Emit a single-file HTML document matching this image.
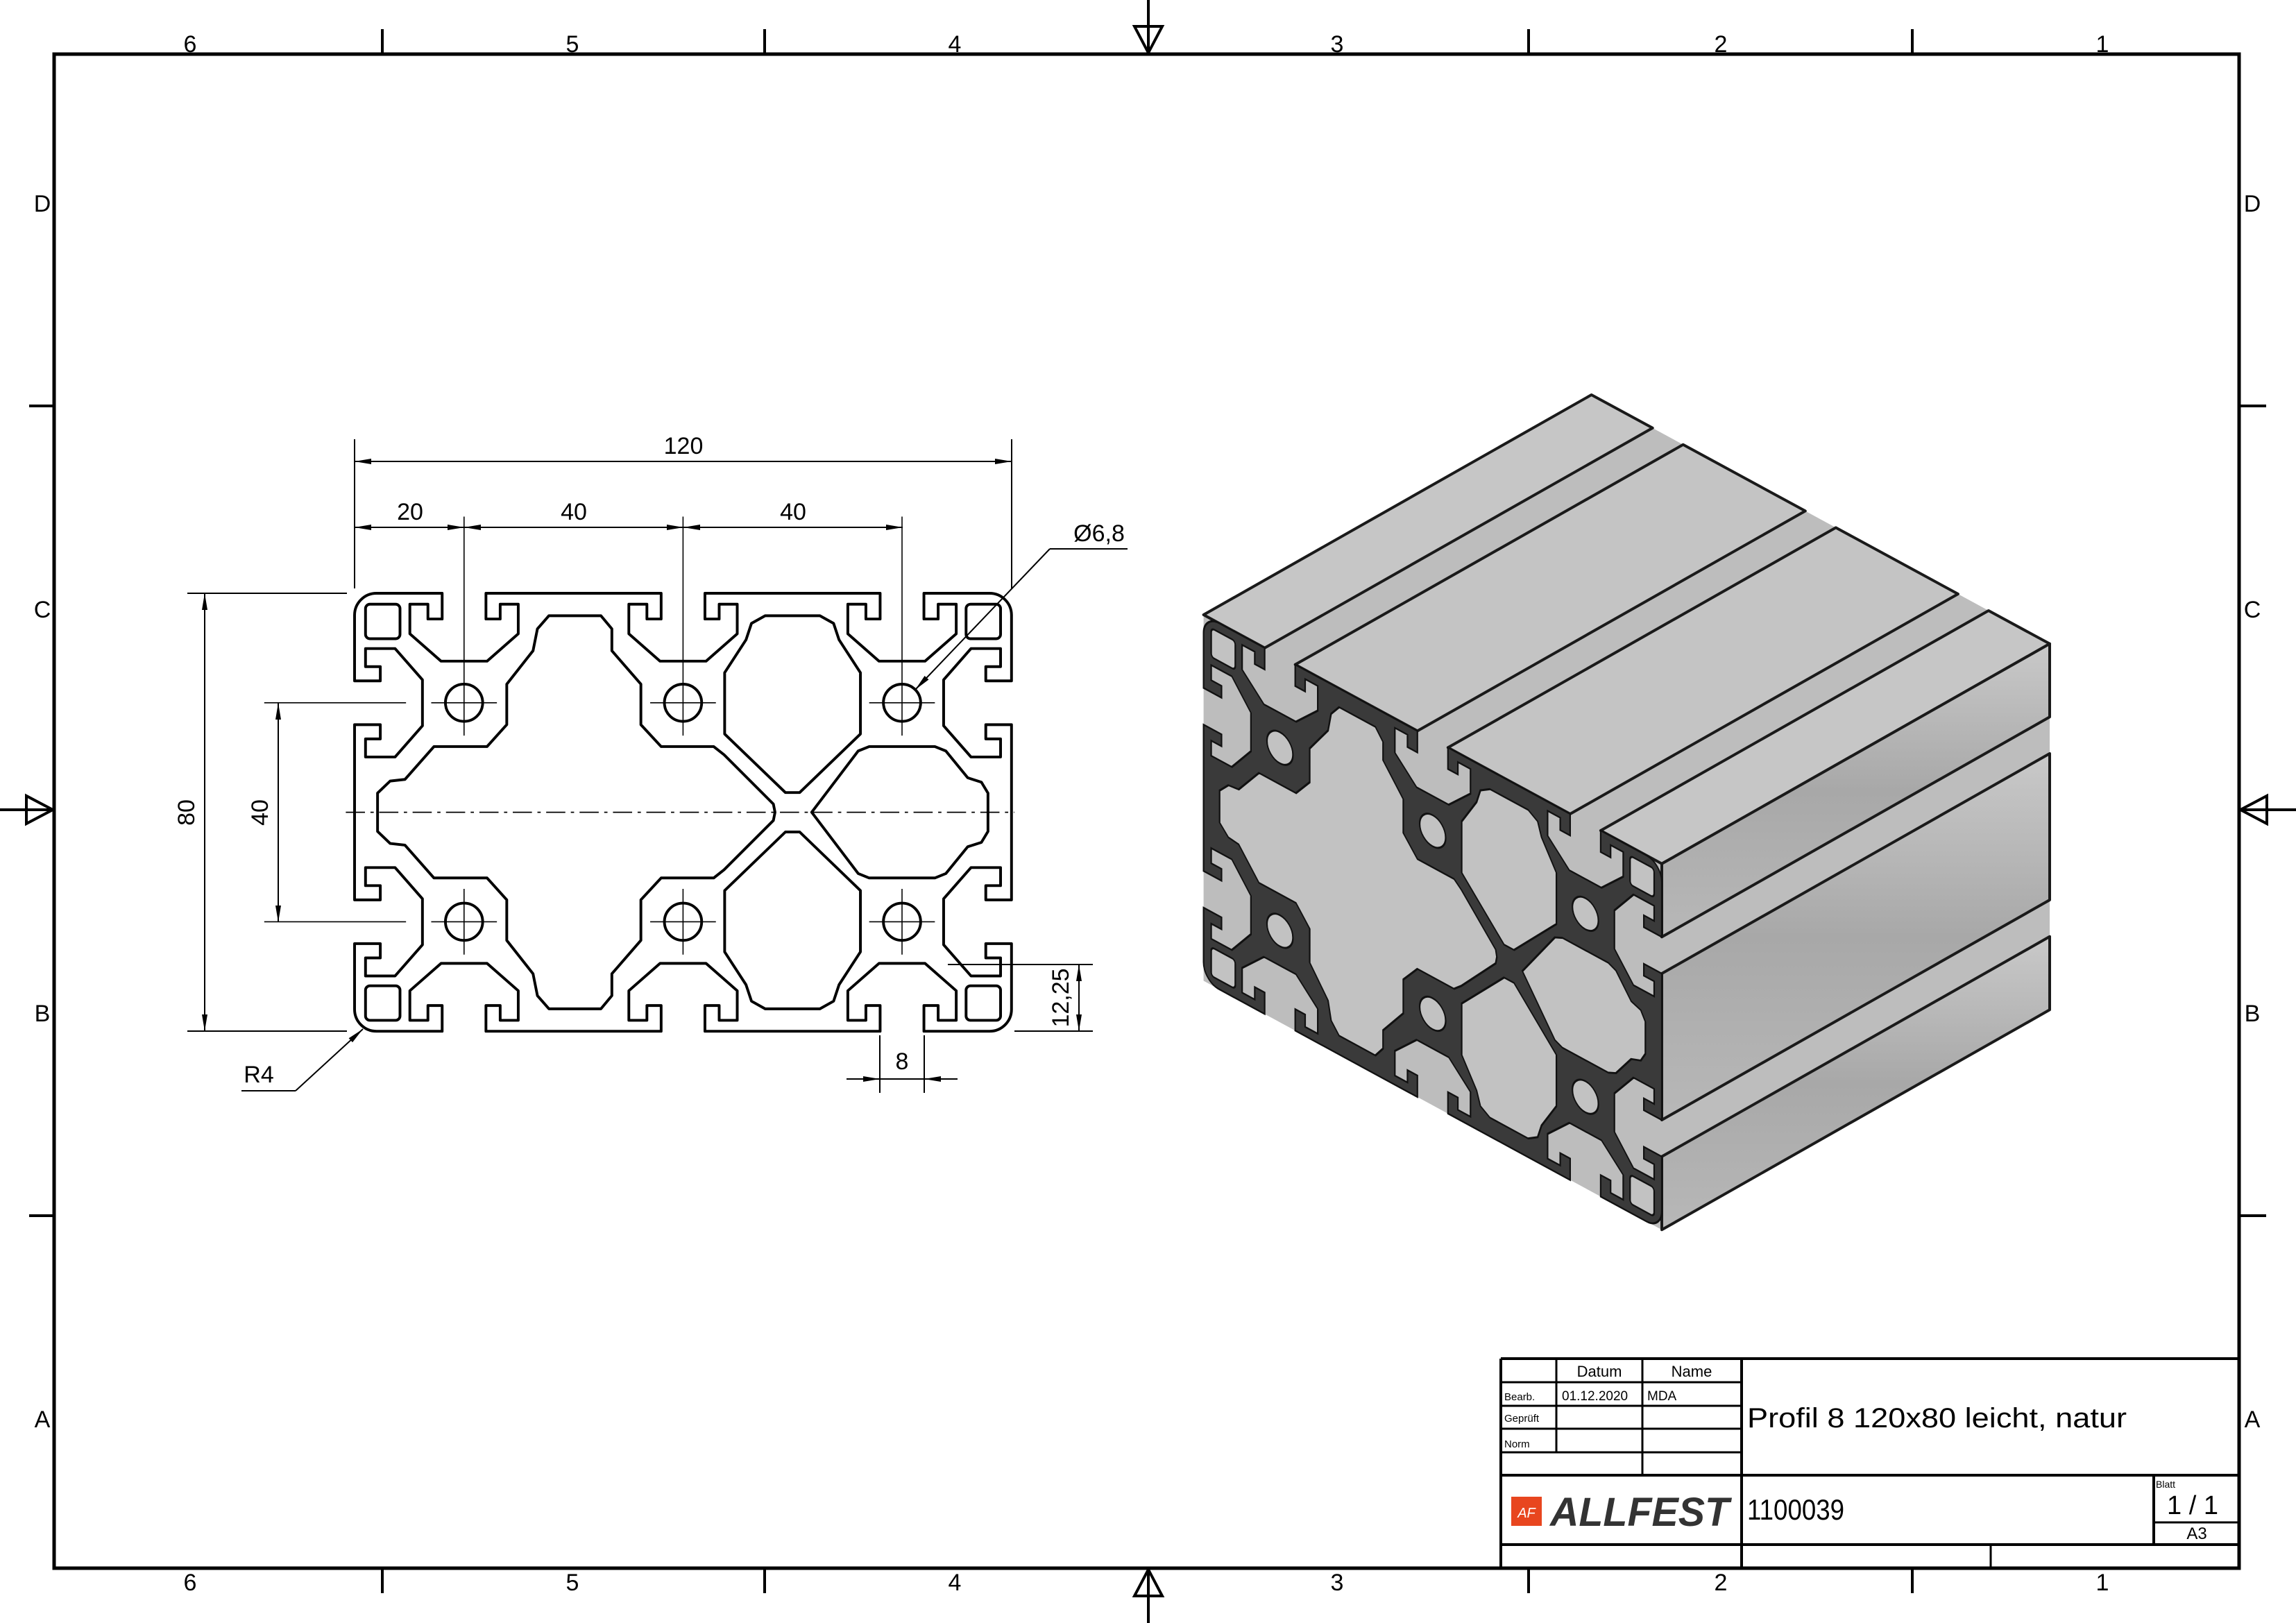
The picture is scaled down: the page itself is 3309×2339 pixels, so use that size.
<!DOCTYPE html>
<html><head><meta charset="utf-8"><style>
html,body{margin:0;padding:0;background:#fff}
svg{display:block}
text{font-family:"Liberation Sans",sans-serif;fill:#000}
</style></head><body>
<svg width="3309" height="2339" viewBox="0 0 3309 2339" xmlns="http://www.w3.org/2000/svg">
<defs>
<marker id="ar" viewBox="0 0 24 8" refX="24" refY="4" markerWidth="24" markerHeight="8" markerUnits="userSpaceOnUse" orient="auto-start-reverse"><path d="M0,0 L24,4 L0,8 Z" fill="#000"/></marker>
<path id="outer" d="M4,0 H16 v4.7 h-2.6 v-2.7 h-3.3 v5.4 l5.7,5 h8.4 l5.7,-5 v-5.4 h-3.3 v2.7 h-2.6 v-4.7 H56 v4.7 h-2.6 v-2.7 h-3.3 v5.4 l5.7,5 h8.4 l5.7,-5 v-5.4 h-3.3 v2.7 h-2.6 v-4.7 H96 v4.7 h-2.6 v-2.7 h-3.3 v5.4 l5.7,5 h8.4 l5.7,-5 v-5.4 h-3.3 v2.7 h-2.6 v-4.7 H116 A4,4 0 0 1 120,4 V16 h-4.7 v-2.6 h2.7 v-3.3 h-5.4 l-5,5.7 v8.4 l5,5.7 h5.4 v-3.3 h-2.7 v-2.6 h4.7 V56 h-4.7 v-2.6 h2.7 v-3.3 h-5.4 l-5,5.7 v8.4 l5,5.7 h5.4 v-3.3 h-2.7 v-2.6 h4.7 V76 A4,4 0 0 1 116,80 H104 v-4.7 h2.6 v2.7 h3.3 v-5.4 l-5.7,-5 h-8.4 l-5.7,5 v5.4 h3.3 v-2.7 h2.6 v4.7 H64 v-4.7 h2.6 v2.7 h3.3 v-5.4 l-5.7,-5 h-8.4 l-5.7,5 v5.4 h3.3 v-2.7 h2.6 v4.7 H24 v-4.7 h2.6 v2.7 h3.3 v-5.4 l-5.7,-5 h-8.4 l-5.7,5 v5.4 h3.3 v-2.7 h2.6 v4.7 H4 A4,4 0 0 1 0,76 V64 h4.7 v2.6 h-2.7 v3.3 h5.4 l5,-5.7 v-8.4 l-5,-5.7 h-5.4 v3.3 h2.7 v2.6 h-4.7 V24 h4.7 v2.6 h-2.7 v3.3 h5.4 l5,-5.7 v-8.4 l-5,-5.7 h-5.4 v3.3 h2.7 v2.6 h-4.7 V4 A4,4 0 0 1 4,0 Z"/>
<path id="cav" d="M4.2,40 L4.2,36.5 L6.5,34.3 L9.2,34 L14.5,28 L24.2,28 L27.8,24 L27.8,16.6 L32.6,10.5 L33.4,6.5 L35.5,4.1 L45,4.1 L47,6.5 L47,10.5 L52.3,16.6 L52.3,24 L56,28 L65.6,28 L67.5,29.5 L76.5,38.5 L76.8,40 L76.5,41.5 L67.5,50.5 L65.6,52 L56,52 L52.3,56 L52.3,63.4 L47,69.5 L47,73.5 L45,75.9 L35.5,75.9 L33.4,73.5 L32.6,69.5 L27.8,63.4 L27.8,56 L24.2,52 L14.5,52 L9.2,46 L6.5,45.7 L4.2,43.5 Z
M75,4.1 L85,4.1 L87.5,5.5 L88.5,8.5 L92.4,14.5 L92.4,25.7 L81.3,36.4 L78.7,36.4 L67.6,25.7 L67.6,14.5 L71.5,8.5 L72.5,5.5 Z
M75,75.9 L85,75.9 L87.5,74.5 L88.5,71.5 L92.4,65.5 L92.4,54.3 L81.3,43.6 L78.7,43.6 L67.6,54.3 L67.6,65.5 L71.5,71.5 L72.5,74.5 Z
M83.5,40 L92,28.8 L94,28 L106,28 L108,28.8 L112,33.7 L114.5,34.5 L115.7,36.5 L115.7,43.5 L114.5,45.5 L112,46.3 L108,51.2 L106,52 L94,52 L92,51.2 Z
M2.8,2 h4.7 a0.8,0.8 0 0 1 0.8,0.8 v4.7 a0.8,0.8 0 0 1 -0.8,0.8 h-4.7 a0.8,0.8 0 0 1 -0.8,-0.8 v-4.7 a0.8,0.8 0 0 1 0.8,-0.8 Z
M112.5,2 h4.7 a0.8,0.8 0 0 1 0.8,0.8 v4.7 a0.8,0.8 0 0 1 -0.8,0.8 h-4.7 a0.8,0.8 0 0 1 -0.8,-0.8 v-4.7 a0.8,0.8 0 0 1 0.8,-0.8 Z
M2.8,71.7 h4.7 a0.8,0.8 0 0 1 0.8,0.8 v4.7 a0.8,0.8 0 0 1 -0.8,0.8 h-4.7 a0.8,0.8 0 0 1 -0.8,-0.8 v-4.7 a0.8,0.8 0 0 1 0.8,-0.8 Z
M112.5,71.7 h4.7 a0.8,0.8 0 0 1 0.8,0.8 v4.7 a0.8,0.8 0 0 1 -0.8,0.8 h-4.7 a0.8,0.8 0 0 1 -0.8,-0.8 v-4.7 a0.8,0.8 0 0 1 0.8,-0.8 Z
M16.6,20 a3.4,3.4 0 1 0 6.8,0 a3.4,3.4 0 1 0 -6.8,0 Z
M56.6,20 a3.4,3.4 0 1 0 6.8,0 a3.4,3.4 0 1 0 -6.8,0 Z
M96.6,20 a3.4,3.4 0 1 0 6.8,0 a3.4,3.4 0 1 0 -6.8,0 Z
M16.6,60 a3.4,3.4 0 1 0 6.8,0 a3.4,3.4 0 1 0 -6.8,0 Z
M56.6,60 a3.4,3.4 0 1 0 6.8,0 a3.4,3.4 0 1 0 -6.8,0 Z
M96.6,60 a3.4,3.4 0 1 0 6.8,0 a3.4,3.4 0 1 0 -6.8,0 Z"/>
<linearGradient id="gs" x1="0" y1="0" x2="0" y2="1"><stop offset="0" stop-color="#c9c9c9"/><stop offset="0.5" stop-color="#a8a8a8"/><stop offset="1" stop-color="#b8b8b8"/></linearGradient>
</defs>
<rect width="3309" height="2339" fill="#fff"/>

<!-- frame -->
<rect x="78" y="78" width="3149" height="2182" fill="none" stroke="#000" stroke-width="5"/>
<g stroke="#000" stroke-width="4" fill="none">
<path d="M551,42V78 M1102,42V78 M2203,42V78 M2756,42V78 M551,2260V2296 M1102,2260V2296 M2203,2260V2296 M2756,2260V2296 M42,585H78 M42,1752H78 M3227,585H3266 M3227,1752H3266"/>
<path d="M1655,0V78 M1635,38H1675L1655,76Z"/>
<path d="M1655,2260V2339 M1635,2300H1675L1655,2262Z"/>
<path d="M0,1167H78 M38,1147V1187L76,1167Z"/>
<path d="M3227,1167H3309 M3267,1147V1187L3229,1167Z"/>
</g>
<g font-size="34" text-anchor="middle">
<text x="274" y="75">6</text><text x="825" y="75">5</text><text x="1376" y="75">4</text><text x="1927" y="75">3</text><text x="2480" y="75">2</text><text x="3030" y="75">1</text>
<text x="274" y="2292">6</text><text x="825" y="2292">5</text><text x="1376" y="2292">4</text><text x="1927" y="2292">3</text><text x="2480" y="2292">2</text><text x="3030" y="2292">1</text>
<text x="61" y="305">D</text><text x="61" y="890">C</text><text x="61" y="1472">B</text><text x="61" y="2057">A</text>
<text x="3246" y="305">D</text><text x="3246" y="890">C</text><text x="3246" y="1472">B</text><text x="3246" y="2057">A</text>
</g>

<!-- 2D profile -->
<g transform="translate(511,855) scale(7.89)" fill="none" stroke="#000" stroke-width="0.5" stroke-linejoin="round">
<use href="#outer"/>
<use href="#cav"/>
<g stroke-width="0.2">
<path d="M14,20H26 M54,20H66 M94,20H106 M14,60H26 M54,60H66 M94,60H106 M20,54V66 M60,54V66 M100,54V66"/>
<path d="M20,-14V26 M60,-14V26 M100,-14V26"/>
<path d="M-16.5,20H9.4 M-16.5,60H9.4"/>
</g>
<path d="M-1.6,40H120.5" stroke-width="0.22" stroke-dasharray="3.5,1,0.6,1"/>
</g>

<!-- dimensions -->
<g stroke="#000" stroke-width="2" fill="none">
<path d="M511,633V848 M1458,633V848"/>
<path d="M270,855H500 M270,1486H500"/>
<path d="M1366,1390H1575 M1462,1486H1575"/>
<path d="M1268,1492V1575 M1332,1492V1575"/>
<line x1="511" y1="665" x2="1458" y2="665" marker-start="url(#ar)" marker-end="url(#ar)"/>
<line x1="511" y1="760" x2="669" y2="760" marker-start="url(#ar)" marker-end="url(#ar)"/>
<line x1="669" y1="760" x2="985" y2="760" marker-start="url(#ar)" marker-end="url(#ar)"/>
<line x1="985" y1="760" x2="1301" y2="760" marker-start="url(#ar)" marker-end="url(#ar)"/>
<line x1="295" y1="855" x2="295" y2="1486" marker-start="url(#ar)" marker-end="url(#ar)"/>
<line x1="401" y1="1013" x2="401" y2="1329" marker-start="url(#ar)" marker-end="url(#ar)"/>
<line x1="1555" y1="1390" x2="1555" y2="1486" marker-start="url(#ar)" marker-end="url(#ar)"/>
<line x1="1220" y1="1555" x2="1268" y2="1555" marker-end="url(#ar)"/>
<line x1="1380" y1="1555" x2="1332" y2="1555" marker-end="url(#ar)"/>
<path d="M1268,1555H1332"/>
<path d="M1625,791H1513"/>
<line x1="1513" y1="791" x2="1319" y2="994" marker-end="url(#ar)"/>
<path d="M348,1572H426"/>
<line x1="426" y1="1572" x2="523" y2="1483" marker-end="url(#ar)"/>
</g>
<g font-size="34" text-anchor="middle">
<text x="985" y="654">120</text>
<text x="591" y="749">20</text>
<text x="827" y="749">40</text>
<text x="1143" y="749">40</text>
<text x="1300" y="1541">8</text>
<text x="1584" y="780">Ø6,8</text>
<text x="373" y="1560">R4</text>
<text transform="translate(280,1171) rotate(-90)">80</text>
<text transform="translate(386,1171) rotate(-90)">40</text>
<text transform="translate(1540,1438) rotate(-90)">12,25</text>
</g>

<!-- 3D view -->
<g stroke="#1a1a1a" stroke-width="4" stroke-linejoin="round">
<polygon points="1734.6,886 2293.6,569 2954,927.8 2954,1455.3 2395,1772.3 1734.6,1413.5" fill="#bdbdbd" stroke="none"/>
<polygon points="1734.6,886 1822.7,933.8 2381.7,616.8 2293.6,569" fill="#c6c6c6"/>
<polygon points="1866.7,957.8 2042.8,1053.4 2601.8,736.4 2425.7,640.8" fill="#c4c4c4"/>
<polygon points="2086.8,1077.4 2262.9,1173 2821.9,856 2645.8,760.4" fill="#c4c4c4"/>
<polygon points="2306.9,1197 2395,1244.8 2954,927.8 2865.9,880" fill="#c6c6c6"/>
<polygon points="2395,1244.8 2395,1350.3 2954,1033.3 2954,927.8" fill="url(#gs)"/>
<polygon points="2395,1403 2395,1614 2954,1297 2954,1086" fill="url(#gs)"/>
<polygon points="2395,1666.8 2395,1772.3 2954,1455.3 2954,1349.8" fill="url(#gs)"/>
</g>
<g transform="matrix(5.503,2.99,0,6.594,1734.6,886)">
<use href="#outer" fill="#3a3a3a" stroke="#111" stroke-width="0.4"/>
<use href="#cav" fill="#c2c2c2" stroke="#111" stroke-width="0.4"/>
</g>

<!-- title block -->
<g stroke="#000" fill="none">
<path stroke-width="4" d="M2163,1958H3227 M2163,1958V2260 M2510,1958V2260 M2163,2126H3227 M3104,2126V2226 M2163,2226H3227"/>
<path stroke-width="3" d="M2243,1958V2093 M2367,1958V2126 M2163,1992H2510 M2163,2026H2510 M2163,2059H2510 M2163,2093H2510 M3104,2194H3227 M2869,2226V2260"/>
</g>
<g font-size="22">
<text x="2305" y="1984" text-anchor="middle">Datum</text>
<text x="2438" y="1984" text-anchor="middle">Name</text>
<text x="2168" y="2018" font-size="15">Bearb.</text>
<text x="2168" y="2049" font-size="15">Geprüft</text>
<text x="2168" y="2086" font-size="15">Norm</text>
<text x="2251" y="2018" font-size="19">01.12.2020</text>
<text x="2374" y="2018" font-size="19">MDA</text>
<text x="2518" y="2057" font-size="40" textLength="547" lengthAdjust="spacingAndGlyphs">Profil 8 120x80 leicht, natur</text>
<text x="2518" y="2190" font-size="42" textLength="140" lengthAdjust="spacingAndGlyphs">1100039</text>
<text x="3107" y="2144" font-size="14">Blatt</text>
<text x="3160" y="2182" font-size="38" text-anchor="middle">1 / 1</text>
<text x="3166" y="2218" font-size="24" text-anchor="middle">A3</text>
</g>
<rect x="2178" y="2157" width="44" height="42" fill="#e8461f"/>
<text x="2200" y="2187" font-size="20" fill="#fff" text-anchor="middle" font-style="italic" style="fill:#fff">AF</text>
<text x="2234" y="2199" font-size="58" font-weight="bold" font-style="italic" textLength="258" lengthAdjust="spacingAndGlyphs" style="fill:#333">ALLFEST</text>
</svg>
</body></html>
